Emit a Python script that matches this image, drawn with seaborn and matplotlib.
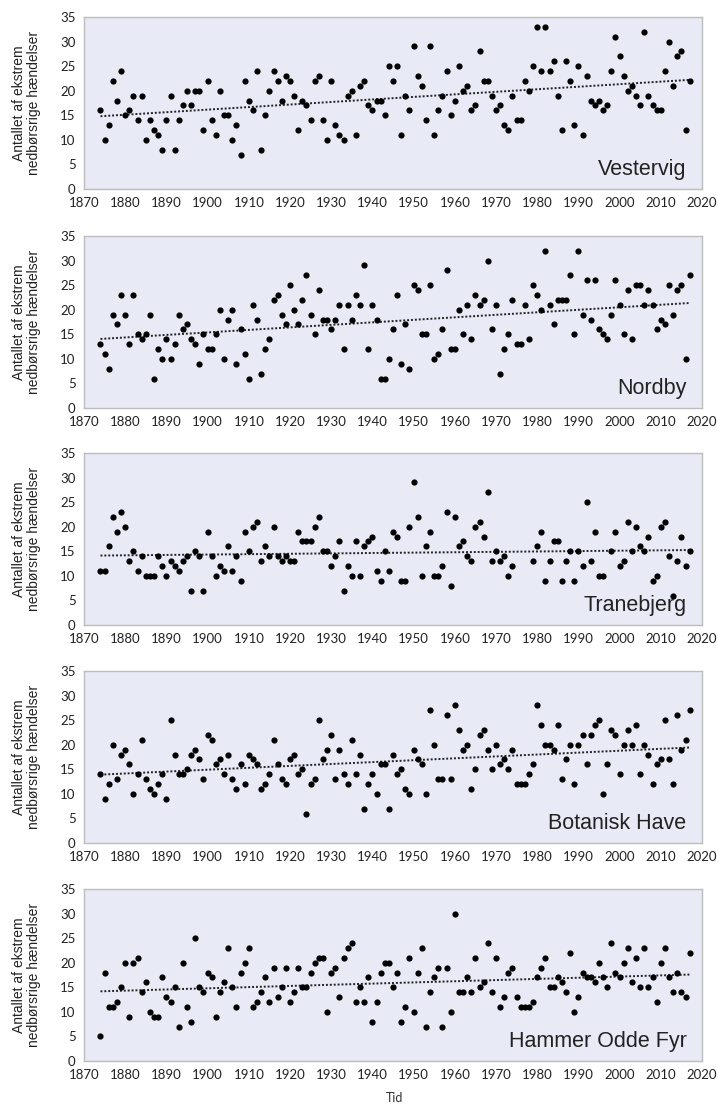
import numpy as np
import pandas as pd
import matplotlib
matplotlib.use('Agg')
import matplotlib.pyplot as plt
import seaborn as sns

sns.set_style('white')
plt.rcParams['font.family'] = ['Liberation Sans', 'DejaVu Sans']

years = list(range(1874, 2018))
nan = np.nan

vestervig = [16, 10, 13, 22, 18, 24, 15, 16, 19, 14,
             19, 10, 14, 12, 11, 8, 14, 19, 8, 14,
             17, 20, 17, 20, 20, 12, 22, 14, 11, 20,
             15, 15, 10, 13, 7, 22, 18, 16, 24, 8,
             15, 20, 24, 22, 18, 23, 22, 19, 12, 18,
             17, 14, 22, 23, 14, 10, 22, 13, 11, 10,
             19, 20, 11, 21, 22, 17, 16, 18, 18, 15,
             25, 22, 25, 11, 19, 16, 29, 23, 21, 14,
             29, 11, 16, 19, 24, 15, 18, 25, 20, 21,
             16, 17, 28, 22, 22, 19, 16, 17, 13, 12,
             19, 14, 14, 22, 20, 25, 33, 24, 33, 24,
             26, 19, 12, 26, 22, 13, 25, 11, 23, 18,
             17, 18, 16, 17, 24, 31, 27, 23, 20, 21,
             19, 17, 32, 19, 17, 16, 16, 24, 30, 21,
             27, 28, 12, 22]

nordby = [13, 11, 8, 19, 17, 23, 19, 13, 23, 15,
          14, 15, 19, 6, 12, 10, 14, 10, 13, 19,
          16, 17, 14, 13, 9, 15, 12, 12, 15, 20,
          10, 18, 20, 9, 16, 11, 6, 21, 18, 7,
          12, 14, 22, 23, 19, 17, 25, 20, 17, 22,
          27, 19, 15, 24, 18, 18, 16, 18, 21, 12,
          21, 18, 23, 21, 29, 12, 21, 18, 6, 6,
          10, 16, 23, 9, 17, 8, 25, 24, 15, 15,
          25, 10, 11, 16, 28, 12, 12, 20, 15, 21,
          14, 23, 21, 22, 30, 16, 21, 7, 12, 15,
          22, 13, 13, 21, 14, 25, 23, 20, 32, 21,
          17, 22, 22, 22, 27, 15, 32, 19, 26, 18,
          26, 16, 15, 14, 19, 26, 21, 15, 24, 14,
          25, 25, 21, 24, 21, 16, 18, 17, 25, 19,
          24, 25, 10, 27]

tranebjerg = [11, 11, 16, 22, 19, 23, 20, 13, 15, 11,
              14, 10, 10, 10, 14, 12, 10, 13, 12, 11,
              13, 14, 7, 15, 14, 7, 19, 14, 10, 12,
              11, 16, 11, 14, 9, 19, 15, 20, 21, 13,
              16, 14, 20, 14, 13, 14, 13, 13, 19, 17,
              17, 17, 20, 22, 15, 15, 12, 14, 17, 7,
              12, 10, 17, 10, 16, 17, 18, 11, 9, 15,
              11, 19, 18, 9, 9, 20, 29, 22, 10, 16,
              19, 10, 10, 12, 23, 8, 22, 16, 17, 14,
              13, 20, 21, 18, 27, 13, 15, 13, 14, 10,
              12, nan, nan, nan, nan, 13, 16, 19, 9, 13,
              17, 17, 9, 13, 15, 9, 15, 12, 25, 13,
              19, 10, 10, nan, 15, 19, 12, 13, 21, 15,
              20, 16, 15, 18, 9, 10, 20, 21, 14, 6,
              13, 18, 12, 15]

botanisk = [14, 9, 12, 20, 13, 18, 19, 16, 10, 14,
            21, 13, 11, 10, 12, 14, 9, 25, 18, 14,
            14, 15, 18, 19, 17, 13, 22, 21, 16, 17,
            14, 18, 13, 11, 16, 12, 18, 17, 16, 11,
            12, 14, 21, 16, 13, 12, 17, 18, 14, 15,
            6, 12, 13, 25, 17, 19, 22, 13, 19, 14,
            12, 21, 14, 18, 7, 12, 14, 10, 16, 16,
            7, 18, 14, 15, 11, 10, 19, 17, 16, 10,
            27, 20, 13, 13, 26, 13, 28, 23, 19, 20,
            11, 15, 22, 23, 19, 15, 20, 16, 17, 15,
            19, 12, 12, 12, 14, 16, 28, 24, 20, 20,
            19, 24, 13, 17, 20, 12, 20, 22, 16, 22,
            24, 25, 10, 16, 23, 22, 14, 20, 23, 20,
            24, 14, 20, 18, 12, 16, 17, 25, 17, 12,
            26, 19, 21, 27]

hammer = [5, 18, 11, 11, 12, 15, 20, 9, 20, 21,
          14, 16, 10, 9, 9, 17, 13, 12, 15, 7,
          20, 11, 8, 25, 15, 14, 18, 17, 9, 14,
          16, 23, 15, 11, 18, 20, 23, 11, 12, 14,
          17, 12, 19, 13, 15, 19, 12, 14, 19, 15,
          15, 18, 20, 21, 21, 10, 18, 19, 13, 21,
          23, 24, 12, 15, 12, 17, 8, 12, 18, 20,
          20, 15, 18, 8, 11, 21, 10, 18, 23, 7,
          14, 17, 19, 7, 19, 10, 30, 14, 14, 17,
          14, 21, 15, 16, 24, 14, 21, 11, 13, 18,
          19, 13, 11, 11, 11, 12, 17, 19, 21, 15,
          15, 17, 16, 14, 22, 10, 13, 18, 17, 17,
          16, 20, 17, 15, 24, 18, 17, 20, 23, 16,
          21, 15, 23, 15, 17, 12, 20, 23, 17, 14,
          18, 14, 13, 22]

stations = ['Vestervig', 'Nordby', 'Tranebjerg', 'Botanisk Have', 'Hammer Odde Fyr']
series = [vestervig, nordby, tranebjerg, botanisk, hammer]

fig = plt.figure(figsize=(7.18, 11.08), dpi=100)
W, H = 718, 1108
tops = [17, 236, 453, 671, 889]

for top, name, vals in zip(tops, stations, series):
    ax = fig.add_axes([84 / W, 1 - (top + 172) / H, 618 / W, 172 / H])
    df = pd.DataFrame({'year': years, 'n': vals}).dropna()
    ax.set_facecolor('#E8EAF6')
    sns.scatterplot(data=df, x='year', y='n', ax=ax, color='black', s=20,
                    linewidth=0, zorder=3)
    # lineaer trend, prikket
    sns.regplot(data=df, x='year', y='n', ax=ax, scatter=False, ci=None,
                color='#222222',
                line_kws={'linestyle': (0, (1, 1)), 'linewidth': 1.4, 'zorder': 2})
    ax.set_xlim(1870, 2020)
    ax.set_ylim(0, 35)
    ax.set_xticks(range(1870, 2021, 10))
    ax.set_yticks(range(0, 36, 5))
    ax.tick_params(length=0, labelsize=9.5, colors='#222222', pad=6)
    for lab in ax.get_xticklabels() + ax.get_yticklabels():
        lab.set_family(['Lato', 'DejaVu Sans'])
    for sp in ax.spines.values():
        sp.set_color('#BDBDBD')
        sp.set_linewidth(1.0)
    ax.set_xlabel('')
    ax.set_ylabel('Antallet af ekstrem\nnedbørsrige hændelser', fontsize=10,
                  color='#222222', labelpad=14, linespacing=1.1)
    ax.text(0.975, 0.05, name, transform=ax.transAxes, ha='right', va='bottom',
            fontsize=15.5, color='#222222')

fig.text(395 / W, 1 - 1098 / H, 'Tid', ha='center', va='center', fontsize=9,
         color='#333333', family=['Lato', 'DejaVu Sans'])

fig.savefig('out.png', dpi=100)
